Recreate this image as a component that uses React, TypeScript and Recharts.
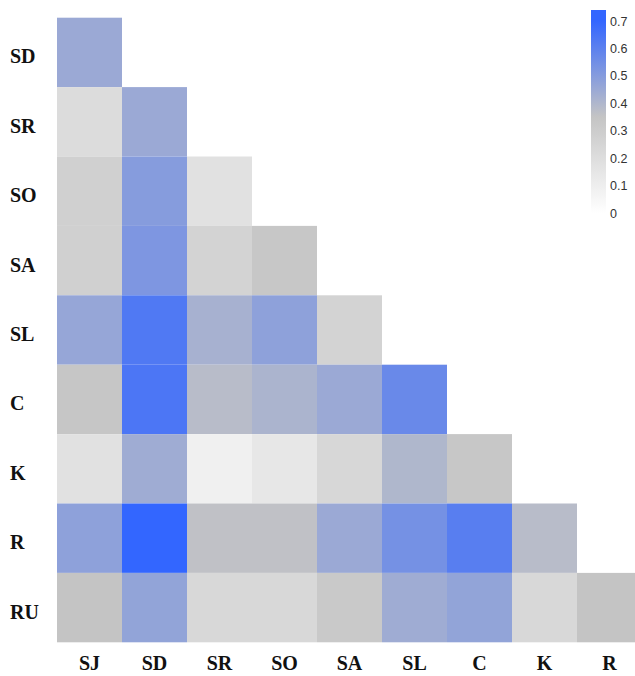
import { ScatterChart, Scatter, XAxis, YAxis } from 'recharts';

const colNames = ['SJ', 'SD', 'SR', 'SO', 'SA', 'SL', 'C', 'K', 'R'];
const rowNames = ['SD', 'SR', 'SO', 'SA', 'SL', 'C', 'K', 'R', 'RU'];

// lower triangle, one array per row (values left to right from SJ)
const rowSD = [0.45];
const rowSR = [0.21, 0.45];
const rowSO = [0.28, 0.5, 0.18];
const rowSA = [0.28, 0.52, 0.26, 0.33];
const rowSL = [0.46, 0.63, 0.42, 0.48, 0.26];
const rowC = [0.34, 0.64, 0.38, 0.41, 0.45, 0.57];
const rowK = [0.18, 0.44, 0.09, 0.14, 0.24, 0.4, 0.33];
const rowR = [0.48, 0.7, 0.36, 0.36, 0.45, 0.54, 0.61, 0.38];
const rowRU = [0.35, 0.47, 0.23, 0.23, 0.32, 0.44, 0.47, 0.23, 0.35];

const legendTicks = [0, 0.1, 0.2, 0.3, 0.4, 0.5, 0.6, 0.7];

const rows = [rowSD, rowSR, rowSO, rowSA, rowSL, rowC, rowK, rowR, rowRU];
const cells = rows.flatMap((vals, r) => vals.map((v, c) => ({ x: c, y: r, v })));

const stops = [
  { v: 0, c: [255, 255, 255] },
  { v: 0.35, c: [196, 196, 196] },
  { v: 0.7, c: [51, 102, 255] },
];

const colorFor = (v: number) => {
  const i = v <= stops[1].v ? 0 : 1;
  const a = stops[i], b = stops[i + 1];
  const t = Math.max(0, Math.min(1, (v - a.v) / (b.v - a.v)));
  const c = a.c.map((ch, k) => Math.round(ch + (b.c[k] - ch) * t));
  return `rgb(${c[0]},${c[1]},${c[2]})`;
};

const W = 650;
const H = 676;
const margin = { top: 17.7, right: 8, bottom: 3.7, left: 7 };
const yAxisW = 50;
const xAxisH = 30;
const plotW = W - margin.left - margin.right - yAxisW;
const plotH = H - margin.top - margin.bottom - xAxisH;
const cellW = plotW / colNames.length;
const cellH = plotH / rowNames.length;

const idx = [0, 1, 2, 3, 4, 5, 6, 7, 8];
const labelFont = '"Liberation Serif", "Times New Roman", serif';

const Cell = (props: any) => {
  const { cx, cy, payload } = props;
  return (
    <rect x={cx - cellW / 2} y={cy - cellH / 2} width={cellW} height={cellH} fill={colorFor(payload.v)} />
  );
};

const XTick = (props: any) => {
  const { x, y, payload } = props;
  return (
    <text x={x} y={y} dy={26} textAnchor="middle" fontFamily={labelFont} fontWeight="bold" fontSize={20} fill="#111">
      {colNames[payload.value]}
    </text>
  );
};

const YTick = (props: any) => {
  const { x, y, payload } = props;
  return (
    <text x={x - 45} y={y} dy={11} textAnchor="start" fontFamily={labelFont} fontWeight="bold" fontSize={20} fill="#111">
      {rowNames[payload.value]}
    </text>
  );
};

const ColorBar = () => {
  const top = 10, bottom = 215, y0 = 213, y7 = 21;
  const yFor = (v: number) => y0 + (y7 - y0) * (v / 0.7);
  return (
    <svg width={635} height={240} style={{ position: 'absolute', left: 0, top: 0 }}>
      <defs>
        <linearGradient id="cbar" x1="0" y1="1" x2="0" y2="0">
          {stops.map((s) => (
            <stop key={s.v} offset={(yFor(0) - yFor(s.v) + (bottom - y0)) / (bottom - top)} stopColor={colorFor(s.v)} />
          ))}
        </linearGradient>
      </defs>
      <rect x={591} y={top} width={15} height={bottom - top} fill="url(#cbar)" />
      {legendTicks.map((t) => (
        <text key={t} x={610} y={yFor(t)} dy={4.5} fontFamily='"Liberation Sans", Arial, sans-serif' fontSize={12.5} fill="#333">
          {t === 0 ? '0' : t.toFixed(1)}
        </text>
      ))}
    </svg>
  );
};

export default function App() {
  return (
    <div style={{ position: 'absolute', left: 0, top: 0, width: 635, height: H, overflow: 'hidden', background: '#fff' }}>
      <ScatterChart width={W} height={H} margin={margin}>
        <XAxis
          type="number"
          dataKey="x"
          domain={[-0.5, 8.5]}
          ticks={idx}
          interval={0}
          height={xAxisH}
          axisLine={false}
          tickLine={false}
          tickSize={0}
          tick={<XTick />}
        />
        <YAxis
          type="number"
          dataKey="y"
          domain={[-0.5, 8.5]}
          ticks={idx}
          interval={0}
          reversed
          width={yAxisW}
          axisLine={false}
          tickLine={false}
          tickSize={0}
          tick={<YTick />}
        />
        <Scatter data={cells} shape={<Cell />} isAnimationActive={false} />
      </ScatterChart>
      <ColorBar />
    </div>
  );
}
